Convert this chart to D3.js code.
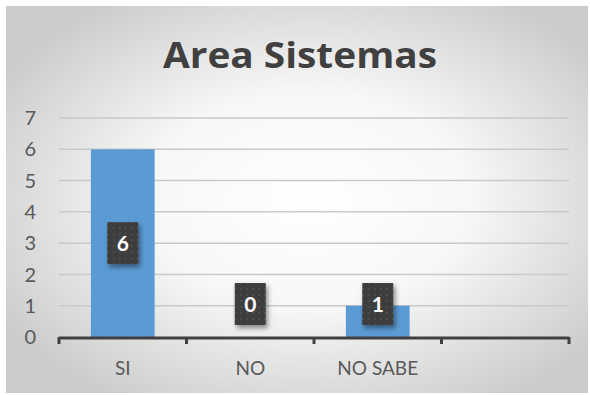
<!DOCTYPE html>
<html>
<head>
<meta charset="utf-8">
<script src="https://cdn.jsdelivr.net/npm/d3@7"></script>
<style>
  body { margin: 0; background: #fff; }
  svg { display: block; }
</style>
</head>
<body>
<div id="chart"></div>
<script>
// data
var categories = ["SI", "NO", "NO SABE", ""]
var values = [6, 0, 1, null]
var yTicks = [0, 1, 2, 3, 4, 5, 6, 7]
var title = "Area Sistemas"

var width = 590, height = 395
var margin = {left: 59, right: 21, top: 118, bottom: 58}

var svg = d3.select("#chart")
  .append("svg")
    .attr("width", width)
    .attr("height", height)

var defs = svg.append("defs")

// grey-to-white radial background
var grad = defs.append("radialGradient")
    .attr("id", "bg")
    .attr("cx", "52%").attr("cy", "50%").attr("r", "62%")
grad.append("stop").attr("offset", "0%").attr("stop-color", "#ffffff")
grad.append("stop").attr("offset", "45%").attr("stop-color", "#f7f7f7")
grad.append("stop").attr("offset", "100%").attr("stop-color", "#cbcbcb")

// dotted texture for the label boxes
var pat = defs.append("pattern")
    .attr("id", "dots")
    .attr("width", 6).attr("height", 6)
    .attr("patternUnits", "userSpaceOnUse")
pat.append("rect").attr("width", 6).attr("height", 6).attr("fill", "#3d3d3d")
pat.append("circle").attr("cx", 3).attr("cy", 3).attr("r", 0.9).attr("fill", "#555")

var shadow = defs.append("filter").attr("id", "shadow")
    .attr("x", "-30%").attr("y", "-30%").attr("width", "170%").attr("height", "170%")
shadow.append("feDropShadow")
    .attr("dx", 2).attr("dy", 3).attr("stdDeviation", 2.5)
    .attr("flood-color", "#000").attr("flood-opacity", 0.45)

svg.append("rect")
    .attr("x", 6).attr("y", 6)
    .attr("width", 582).attr("height", 387)
    .attr("fill", "url(#bg)")

svg.append("text")
    .attr("x", 300)
    .attr("y", 68)
    .attr("text-anchor", "middle")
    .attr("textLength", 274)
    .attr("lengthAdjust", "spacingAndGlyphs")
    .style("font-family", "'Open Sans', Lato, sans-serif")
    .style("font-weight", "bold")
    .style("font-size", "36px")
    .style("fill", "#404040")
    .text(title)

var x = d3.scaleBand()
  .domain(categories)
  .range([margin.left, width - margin.right])
  .paddingInner(0.5)
  .paddingOuter(0.25)

var y = d3.scaleLinear()
  .domain([0, 7])
  .range([height - margin.bottom, margin.top])

// gridlines
svg.append("g")
  .selectAll("line")
  .data(yTicks.slice(1))
  .join("line")
    .attr("x1", margin.left)
    .attr("x2", width - margin.right)
    .attr("y1", function(d) { return y(d) })
    .attr("y2", function(d) { return y(d) })
    .attr("stroke", "#c9c9c9")
    .attr("stroke-width", 1.5)

// y tick labels
svg.append("g")
  .selectAll("text")
  .data(yTicks)
  .join("text")
    .attr("x", 36)
    .attr("y", function(d) { return y(d) })
    .attr("dy", "0.36em")
    .attr("text-anchor", "end")
    .style("font-family", "Lato, 'Open Sans', sans-serif")
    .style("font-size", "20px")
    .style("fill", "#595959")
    .text(function(d) { return d })

// bars
var barData = categories.map(function(c, i) { return {cat: c, val: values[i]} })
  .filter(function(d) { return d.val != null })

svg.append("g")
  .selectAll("rect")
  .data(barData)
  .join("rect")
    .attr("x", function(d) { return x(d.cat) })
    .attr("width", x.bandwidth())
    .attr("y", function(d) { return y(d.val) })
    .attr("height", function(d) { return y(0) - y(d.val) })
    .attr("fill", "#5b9bd5")

// x axis with tick marks between categories
var step = x.step()
var edges = d3.range(categories.length + 1).map(function(i) { return margin.left + i * step })
svg.append("line")
    .attr("x1", margin.left).attr("x2", width - margin.right)
    .attr("y1", y(0) + 1).attr("y2", y(0) + 1)
    .attr("stroke", "#404040").attr("stroke-width", 3)
svg.append("g")
  .selectAll("line")
  .data(edges)
  .join("line")
    .attr("x1", function(d) { return d }).attr("x2", function(d) { return d })
    .attr("y1", y(0)).attr("y2", y(0) + 7)
    .attr("stroke", "#404040").attr("stroke-width", 3)

svg.append("g")
  .selectAll("text")
  .data(categories)
  .join("text")
    .attr("x", function(d) { return x(d) + x.bandwidth() / 2 })
    .attr("y", 375)
    .attr("text-anchor", "middle")
    .style("font-family", "Lato, 'Open Sans', sans-serif")
    .style("font-size", "19px")
    .style("fill", "#595959")
    .text(function(d) { return d })

// data labels in dark boxes
var labels = svg.append("g")
  .selectAll("g")
  .data(barData)
  .join("g")
    .attr("transform", function(d) {
      var cy = Math.min(y(d.val / 2), y(0) - 33)
      return "translate(" + (x(d.cat) + x.bandwidth() / 2) + "," + cy + ")"
    })
labels.append("rect")
    .attr("x", -15.5).attr("y", -21)
    .attr("width", 31).attr("height", 42)
    .attr("fill", "url(#dots)")
    .attr("filter", "url(#shadow)")
labels.append("text")
    .attr("dy", "0.36em")
    .attr("text-anchor", "middle")
    .style("font-family", "Lato, 'Open Sans', sans-serif")
    .style("font-weight", "bold")
    .style("font-size", "21px")
    .style("fill", "#ffffff")
    .text(function(d) { return d.val })
</script>
</body>
</html>
